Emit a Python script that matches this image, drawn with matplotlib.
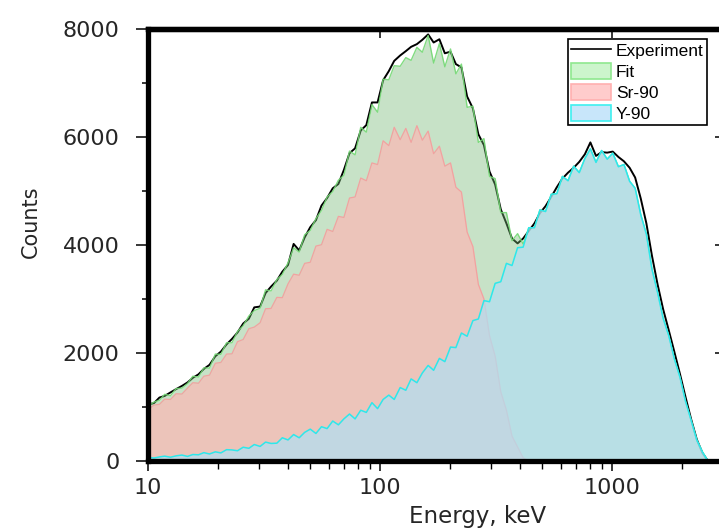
import matplotlib
matplotlib.use("Agg")
import matplotlib.pyplot as plt
from matplotlib.patches import Patch
from matplotlib.lines import Line2D
from matplotlib.ticker import NullLocator, NullFormatter, FixedLocator
import numpy as np

# ---------------- data ----------------
energy = [10, 10.6, 11.2, 11.8, 12.5, 13.2, 14.0, 14.8, 15.6, 16.5,
          17.4, 18.4, 19.5, 20.6, 21.8, 23.0, 24.3, 25.7, 27.2, 28.7,
          30.4, 32.1, 33.9, 35.9, 37.9, 40.1, 42.4, 44.8, 47.3, 50.0,
          52.9, 55.9, 59.1, 62.5, 66.1, 69.8, 73.8, 78.0, 82.5, 87.2,
          92.2, 97.5, 103, 109, 115, 122, 129, 136, 144, 152,
          161, 170, 180, 190, 201, 212, 224, 237, 251, 265,
          280, 296, 313, 331, 350, 370, 391, 413, 437, 462,
          488, 516, 546, 577, 610, 645, 682, 721, 762, 805,
          851, 900, 951, 1005, 1063, 1123, 1188, 1255, 1327, 1403,
          1483, 1568, 1657, 1752, 1852, 1958, 2070, 2188, 2313, 2445, 2585]

experiment = [1050, 1070, 1175, 1205, 1270, 1330, 1390, 1455, 1540, 1605,
              1705, 1780, 1940, 2025, 2160, 2260, 2380, 2545, 2635, 2845,
              2860, 3110, 3230, 3340, 3505, 3630, 4020, 3900, 4140, 4330,
              4460, 4730, 4870, 5050, 5130, 5390, 5700, 5790, 6120, 6220,
              6640, 6640, 7050, 7220, 7410, 7510, 7590, 7670, 7720, 7800,
              7900, 7750, 7810, 7550, 7580, 7350, 7290, 6750, 6530, 6050,
              5850, 5360, 5120, 4660, 4400, 4120, 4030, 4120, 4260, 4400,
              4590, 4720, 4890, 5070, 5230, 5340, 5430, 5540, 5680, 5900,
              5650, 5720, 5710, 5730, 5630, 5550, 5430, 5250, 4860, 4400,
              3800, 3270, 2810, 2420, 2020, 1610, 1180, 770, 400, 150, 0]

sr90 = [950, 1035, 1050, 1145, 1140, 1245, 1240, 1350, 1450, 1440,
        1570, 1590, 1810, 1825, 1980, 1985, 2210, 2250, 2450, 2480,
        2560, 2820, 2825, 3030, 3025, 3280, 3460, 3440, 3660, 3680,
        3980, 4005, 4290, 4250, 4530, 4510, 4870, 4890, 5240, 5190,
        5520, 5490, 5930, 5840, 6180, 5950, 6160, 5900, 6210, 5940,
        6110, 5690, 5830, 5460, 5520, 5070, 4980, 4240, 3970, 3270,
        3000, 2320, 1940, 1280, 940, 460, 260, 60, 0]

y90 = [70, 55, 75, 90, 70, 95, 110, 85, 120, 115,
       155, 130, 170, 150, 210, 205, 190, 255, 235, 305,
       270, 350, 325, 330, 430, 390, 490, 430, 530, 590,
       510, 635, 600, 740, 670, 780, 870, 780, 940, 900,
       1080, 970, 1140, 1220, 1140, 1360, 1310, 1520, 1450, 1630,
       1770, 1680, 1900, 1840, 2110, 2100, 2370, 2310, 2600, 2630,
       2970, 2950, 3290, 3320, 3660, 3620, 3950, 3960, 4320, 4320,
       4650, 4620, 4940, 4950, 5270, 5190, 5460, 5340, 5600, 5780,
       5530, 5750, 5590, 5700, 5450, 5490, 5180, 5050, 4560, 4200,
       3550, 3120, 2640, 2320, 1890, 1550, 1100, 750, 390, 170, 0]

legend_labels = ["Experiment", "Fit", "Sr-90", "Y-90"]
x_ticks = [10, 100, 1000]
y_ticks = [0, 2000, 4000, 6000, 8000]
y_minor = [1000, 3000, 5000, 7000]

# ---------------- derived ----------------
energy_a = np.array(energy, dtype=float)
y_a = np.array(y90, dtype=float)
sr_a = np.array(sr90, dtype=float)
fit = y_a.copy()
fit[:len(sr_a)] += sr_a
e_sr = energy_a[:len(sr_a)]

# ---------------- figure ----------------
W, H = 719, 529
fig = plt.figure(figsize=(W / 100, H / 100), dpi=100)
ax_l, ax_r, ax_t, ax_b = 148, 723, 29, 461
ax = fig.add_axes([ax_l / W, 1 - ax_b / H, (ax_r - ax_l) / W, (ax_b - ax_t) / H])

ax.set_xscale("log")
ax.set_xlim(10, 3000)
ax.set_ylim(0, 8000)

fit_face = (0.45, 0.72, 0.45)
sr_face = (0.99, 0.72, 0.71)
y_face = (0.70, 0.87, 0.94)

ax.plot(energy_a, experiment, color="black", lw=1.4, zorder=1)
ax.fill_between(energy_a, fit, color=fit_face, alpha=0.4, lw=0, zorder=2)
ax.plot(energy_a, fit, color="#74d874", lw=1.0, alpha=0.9, zorder=2.5)
ax.fill_between(e_sr, sr_a, color=sr_face, alpha=0.7, lw=0, zorder=3)
ax.plot(e_sr, sr_a, color="#f2a2a0", lw=0.9, zorder=3.5)
ax.fill_between(energy_a, y_a, color=y_face, alpha=0.75, lw=0, zorder=4)
ax.plot(energy_a, y_a, color="#2ce8ec", lw=1.1, zorder=5)

# spines
for s in ax.spines.values():
    s.set_linewidth(3.8)
    s.set_color("black")
    s.set_zorder(10)

# ticks
ax.xaxis.set_major_locator(FixedLocator(x_ticks))
ax.set_xticklabels([str(v) for v in x_ticks])
ax.xaxis.set_minor_formatter(NullFormatter())
ax.yaxis.set_major_locator(FixedLocator(y_ticks))
ax.set_yticklabels([str(v) for v in y_ticks])
ax.yaxis.set_minor_locator(FixedLocator(y_minor))

ax.tick_params(axis="y", which="major", direction="out", length=8.5, width=1.1,
               pad=12, labelsize=16, labelcolor="#262626", right=False)
ax.tick_params(axis="y", which="minor", direction="out", length=4.5, width=1.1, right=False)
ax.tick_params(axis="x", which="major", direction="out", length=7.5, width=1.1,
               pad=5, labelsize=16, labelcolor="#262626", top=False)
ax.tick_params(axis="x", which="minor", direction="out", length=5.5, width=1.0, top=False)
for lab in ax.get_xticklabels() + ax.get_yticklabels():
    lab.set_family("DejaVu Sans")

secx = ax.secondary_xaxis("top")
secx.set_xticks(x_ticks)
secx.xaxis.set_minor_locator(NullLocator())
secx.tick_params(direction="in", length=6.5, width=1.1, labeltop=False)
secx.spines["top"].set_linewidth(3.8)

secy = ax.secondary_yaxis("right")
secy.set_yticks(y_ticks)
secy.yaxis.set_minor_locator(NullLocator())
secy.tick_params(direction="in", length=6, width=1.1, labelright=False)
secy.spines["right"].set_linewidth(3.8)

# axis labels
ax.set_xlabel("Energy, keV", fontsize=16.5, color="#262626", family="DejaVu Sans")
ax.xaxis.set_label_coords((478 - ax_l) / (ax_r - ax_l), (ax_b - 505) / (ax_b - ax_t))
ax.set_ylabel("Counts", fontsize=15, color="#262626", family="DejaVu Sans")
ax.yaxis.set_label_coords((41 - ax_l) / (ax_r - ax_l), (ax_b - 222) / (ax_b - ax_t))

# legend
handles = [
    Line2D([0], [0], color="black", lw=1.2),
    Patch(facecolor="#ccf5cc", edgecolor="#8fe88f", lw=1.2),
    Patch(facecolor="#ffcccc", edgecolor="#ffb0b0", lw=1.2),
    Patch(facecolor="#c8e6fa", edgecolor="#3ef0f0", lw=1.2),
]
leg = ax.legend(handles, legend_labels, loc="upper left",
                bbox_to_anchor=(568 / W, 1 - 39 / H), bbox_transform=fig.transFigure,
                prop={"family": "Liberation Sans", "size": 12.5},
                frameon=True, fancybox=False, shadow=False, framealpha=1,
                edgecolor="black", borderpad=0.2, handlelength=2.3,
                handleheight=1.05, handletextpad=0.25, labelspacing=0.22,
                borderaxespad=0)
leg.get_frame().set_linewidth(1.2)
leg.set_zorder(20)

fig.savefig("out.png", dpi=100)
